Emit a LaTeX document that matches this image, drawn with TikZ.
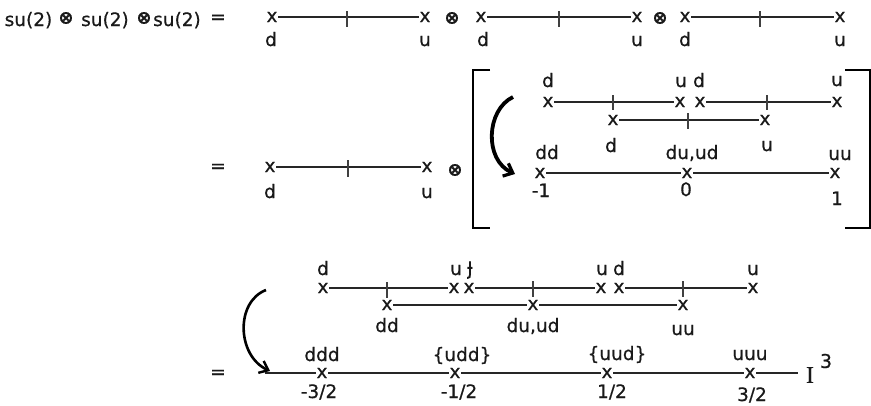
\documentclass[tikz,border=0pt]{standalone}
\usepackage{fontspec}
\setmainfont{DejaVu Sans}[FakeBold=0.6]
\newfontfamily\serifI{Liberation Serif}[FakeBold=0.6]
\usetikzlibrary{arrows.meta}
\begin{document}
\begin{tikzpicture}[x=1pt,y=-1pt,
  every node/.style={font=\fontsize{18.5}{21}\selectfont, inner sep=0.5pt, text=black!90},
  xm/.style={font=\fontsize{18.5}{20}\selectfont, inner sep=0.6pt},
  lab/.style={anchor=base},
  otim/.style={font=\bfseries\fontsize{18}{20}\selectfont},
  seg/.style={line width=1.1pt, draw=black!85},
  tk/.style={line width=1.9pt, draw=black!75},
  brk/.style={line width=1.3pt},
  bendA/.style={line width=3.8pt, -{Straight Barb[length=8pt,width=14pt,line width=3.2pt]}},
  bendB/.style={line width=2.6pt, -{Straight Barb[length=8pt,width=13pt,line width=2.4pt]}},
]
\useasboundingbox (0,0) rectangle (871,405);

% ---------- title row ----------
\node[lab] (s1) at (28.5,26) {su(2)};
\node[otim] (o1) at (66,18) {⊗};
\node[lab] (s2) at (105,26) {su(2)};
\node[otim] (o2) at (144,18) {⊗};
\node[lab] (s3) at (177,26) {su(2)};
\node (eq1) at (218,19) {=};

% group A
\node[xm] (a1) at (272,17) {x};
\node[xm] (a2) at (425,17) {x};
\draw[seg] (a1) -- (a2);
\draw[tk] (347,11) -- (347,27);
\node[lab] (la1) at (271,46) {d};
\node[lab] (la2) at (425,46) {u};
\node[otim] (o3) at (452,18) {⊗};
% group B
\node[xm] (b1) at (481,17) {x};
\node[xm] (b2) at (637,17) {x};
\draw[seg] (b1) -- (b2);
\draw[tk] (559,11) -- (559,27);
\node[lab] (lb1) at (483,46) {d};
\node[lab] (lb2) at (637,46) {u};
\node[otim] (o4) at (660,18) {⊗};
% group C
\node[xm] (c1) at (685,17) {x};
\node[xm] (c2) at (840,17) {x};
\draw[seg] (c1) -- (c2);
\draw[tk] (760,11) -- (760,27);
\node[lab] (lc1) at (685,46) {d};
\node[lab] (lc2) at (840,46) {u};

% ---------- second row ----------
\node (eq2) at (218,168) {=};
\node[xm] (e1) at (270,167) {x};
\node[xm] (e2) at (427,167) {x};
\draw[seg] (e1) -- (e2);
\draw[tk] (348,160) -- (348,177);
\node[lab] (le1) at (270,198) {d};
\node[lab] (le2) at (427,198) {u};
\node[otim] (o5) at (455,170) {⊗};

% brackets
\draw[brk] (490,70) -- (473,70) -- (473,228) -- (490,228);
\draw[brk] (845,70) -- (870,70) -- (870,228) -- (845,228);

% bracket row 1
\node[xm] (p1) at (548,102) {x};
\node[xm] (p2) at (680,102) {x};
\node[xm] (p3) at (700,102) {x};
\node[xm] (p4) at (837,102) {x};
\draw[seg] (p1) -- (p2);
\draw[seg] (p3) -- (p4);
\draw[tk] (613,95) -- (613,110);
\draw[tk] (767,95) -- (767,110);
\node[lab] (lp1) at (548,87) {d};
\node[lab] (lp2) at (681,87) {u};
\node[lab] (lp3) at (699,87) {d};
\node[lab] (lp4) at (837,86) {u};

% bracket row 2
\node[xm] (q1) at (613,120) {x};
\node[xm] (q2) at (765,120) {x};
\draw[seg] (q1) -- (q2);
\draw[tk] (688,113) -- (688,129);
\node[lab] (lq1) at (611,152) {d};
\node[lab] (lq2) at (767,151) {u};

% bracket row 3
\node[xm] (r1) at (540,173) {x};
\node[xm] (r2) at (687,173) {x};
\node[xm] (r3) at (835,173) {x};
\draw[seg] (r1) -- (r2) -- (r3);
\node[lab] (lr1) at (547,159) {dd};
\node[lab] (lr2) at (692,159) {du,ud};
\node[lab] (lr3) at (840,160) {uu};
\node[lab] (lr4) at (541,197) {-1};
\node[lab] (lr5) at (686,196) {0};
\node[lab] (lr6) at (837,205) {1};

% curved arrow (upper)
\coordinate (ua0) at (513,97);
\coordinate (ua1) at (515,174);
\draw[bendA] (ua0) .. controls (486,110) and (484,160) .. (ua1);

% ---------- third row ----------
\node (eq3) at (218,374) {=};
% top line
\node[xm] (t1) at (323,288) {x};
\node[xm] (t2) at (454,288) {x};
\node[xm] (t3) at (469,288) {x};
\node[xm] (t4) at (601,288) {x};
\node[xm] (t5) at (619,288) {x};
\node[xm] (t6) at (753,288) {x};
\draw[seg] (t1) -- (t2);
\draw[seg] (t3) -- (t4);
\draw[seg] (t5) -- (t6);
\draw[tk] (387,282) -- (387,298);
\draw[tk] (533,281) -- (533,297);
\draw[tk] (683,281) -- (683,297);
\node[lab] (lt1) at (323,275) {d};
\node[lab] (lt2) at (456,275) {u};
\node[lab] (lt3) at (470,274) {\scalebox{1}[1.25]{ɟ}};
\node[lab] (lt4) at (602,275) {u};
\node[lab] (lt5) at (619,275) {d};
\node[lab] (lt6) at (753,275) {u};
% middle line
\node[xm] (m1) at (387,305) {x};
\node[xm] (m2) at (533,305) {x};
\node[xm] (m3) at (683,305) {x};
\draw[seg] (m1) -- (m2) -- (m3);
\node[lab] (lm1) at (387,332) {dd};
\node[lab] (lm2) at (533,332) {du,ud};
\node[lab] (lm3) at (683,335) {uu};
% bottom line
\coordinate (bl0) at (265,373);
\coordinate (bl5) at (798,373);
\node[xm] (n1) at (322,373) {x};
\node[xm] (n2) at (455,373) {x};
\node[xm] (n3) at (607,373) {x};
\node[xm] (n4) at (750,373) {x};
\draw[seg] (bl0) -- (n1) -- (n2) -- (n3) -- (n4) -- (bl5);
\node[lab] (ln1) at (322,361) {ddd};
\node[lab] (ln2) at (462,361) {\{udd\}};
\node[lab] (ln3) at (617,360) {\{uud\}};
\node[lab] (ln4) at (750,360) {uuu};
\node[lab] (ln5) at (319,398) {-3/2};
\node[lab] (ln6) at (459,398) {-1/2};
\node[lab] (ln7) at (612,398) {1/2};
\node[lab] (ln8) at (752,401) {3/2};
\node[font=\serifI\fontsize{24}{26}\selectfont] (I3) at (810,375) {I};
\node[font=\fontsize{19}{21}\selectfont] (sup3) at (826,361) {3};

% curved arrow (lower)
\coordinate (la0) at (266,290);
\coordinate (la1) at (270,371);
\draw[bendB] (la0) .. controls (235,302) and (237,356) .. (la1);
\end{tikzpicture}
\end{document}
